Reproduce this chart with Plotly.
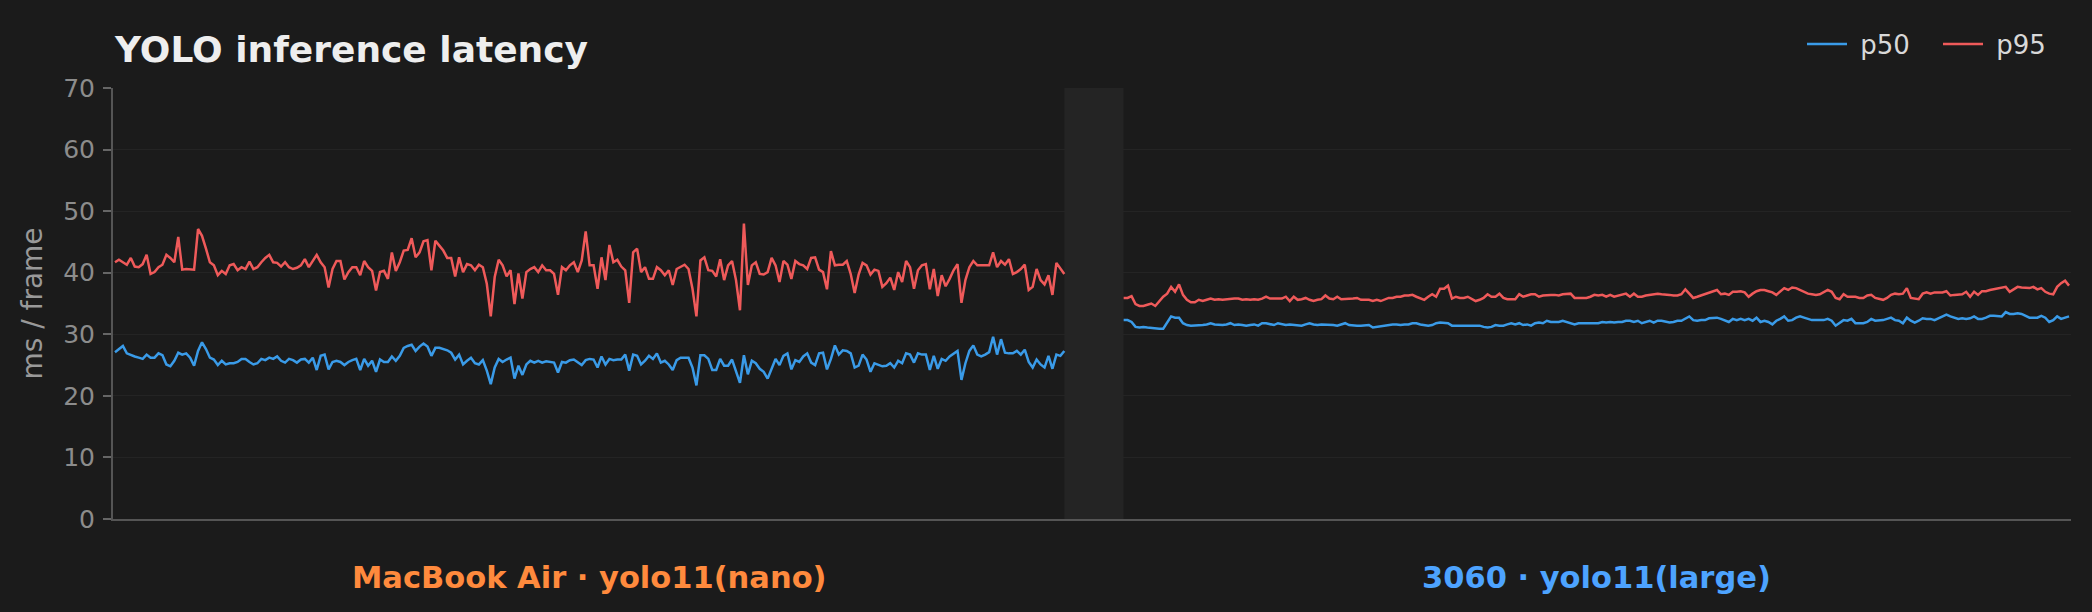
import numpy as np
import plotly.graph_objects as go

# ---------------- data ----------------
segments = ["MacBook Air · yolo11(nano)", "3060 · yolo11(large)"]
segment_colors = ["#ff8a3d", "#4da3ff"]

p95_mac = [
    41.7, 42.1, 41.7, 41.3, 42.4, 41.0, 40.9, 41.4, 42.9, 39.8,
    40.1, 40.9, 41.3, 42.9, 42.4, 41.7, 45.8, 40.5, 40.6, 40.5,
    40.5, 47.1, 46.0, 43.9, 41.7, 41.2, 39.6, 40.3, 39.8, 41.2,
    41.4, 40.4, 40.9, 40.6, 41.8, 40.6, 40.9, 41.7, 42.4, 42.9,
    41.7, 41.6, 41.0, 41.7, 40.9, 40.6, 40.8, 41.2, 42.2, 40.9,
    41.9, 42.9, 41.7, 40.9, 37.6, 40.6, 41.9, 41.9, 38.9, 40.1,
    40.9, 40.9, 39.6, 41.9, 40.9, 40.3, 37.1, 40.1, 40.3, 39.0,
    43.3, 40.3, 41.7, 43.6, 43.7, 45.6, 42.5, 43.3, 45.1, 45.3,
    40.4, 45.2,
    44.4, 43.6, 42.4, 42.4, 39.4, 42.5, 40.1, 41.4, 41.2, 40.4,
    41.3, 40.9, 38.2, 32.9, 39.3, 42.1, 41.2, 39.4, 40.4, 34.9,
    39.9, 35.8, 40.1, 40.6, 40.9, 40.1, 41.2, 40.4, 40.4, 39.8,
    36.4, 40.9, 40.4, 41.2, 41.7, 40.1, 42.0, 46.7, 41.2, 41.2,
    37.4, 42.5, 38.8, 44.5, 41.7, 42.1, 41.0, 40.4, 35.1, 43.3,
    43.9, 40.1, 40.9, 39.0, 39.0, 40.9, 40.4, 39.6, 40.4, 38.0,
    40.6, 40.9, 41.3, 40.6, 37.4, 32.9, 42.0, 42.5, 40.4, 40.3,
    39.4, 42.2, 38.8, 41.2, 41.9, 38.8, 33.9, 48.0, 38.0, 41.2,
    41.7, 39.8,
    39.7, 40.1, 42.4, 41.2, 38.5, 41.9, 41.3, 39.0, 41.9, 41.4,
    41.2, 40.6, 42.4, 42.5, 40.5, 40.1, 37.3, 43.5, 41.2, 41.3,
    41.3, 41.9, 39.8, 36.7, 39.7, 41.6, 41.2, 39.7, 40.5, 40.3,
    37.7, 38.3, 39.2, 37.2, 40.1, 38.5, 41.9, 40.9, 37.4, 40.4,
    41.2, 41.4, 37.3, 40.6, 36.2, 39.6, 37.8, 39.0, 40.4, 41.4,
    35.1, 38.8, 40.9, 41.9, 41.2, 41.2, 41.2, 41.2, 43.3, 40.9,
    41.9, 41.3, 42.2, 39.8, 40.1, 40.6, 41.3, 37.2, 37.7, 40.6,
    38.8, 38.1, 39.6, 36.4, 41.6, 40.6, 39.8,
]

p50_mac = [
    27.1, 27.6, 28.1, 26.9, 26.6, 26.4, 26.2, 26.0, 26.7, 26.2,
    26.2, 26.9, 26.6, 25.1, 24.8, 25.7, 27.0, 26.7, 26.9, 26.2,
    24.9, 27.3, 28.7, 27.6, 26.2, 25.9, 25.0, 25.7, 25.1, 25.3,
    25.3, 25.5, 26.0, 26.0, 25.5, 25.1, 25.3, 26.0, 25.8, 26.2,
    26.0, 26.4, 25.7, 25.4, 26.0, 25.8, 25.4, 25.9, 26.0, 25.4,
    26.2, 24.2, 26.5, 26.7, 24.3, 25.5, 25.7, 25.5, 25.0, 25.5,
    25.8, 26.0, 24.2, 26.0, 24.9, 25.7, 23.9, 25.9, 25.5, 25.5,
    26.4, 25.7, 26.5, 27.8, 28.1, 28.3, 27.3, 28.0, 28.5, 28.0,
    26.5, 27.8,
    27.8, 27.6, 27.4, 27.0, 25.9, 26.7, 25.1, 25.7, 26.2, 25.3,
    25.1, 25.8, 24.1, 21.9, 24.6, 26.0, 25.5, 25.9, 26.2, 22.8,
    24.9, 23.4, 25.1, 25.7, 25.4, 25.7, 25.4, 25.6, 25.5, 25.4,
    23.8, 25.5, 25.4, 25.8, 25.9, 25.5, 25.0, 25.8, 26.0, 25.9,
    24.6, 26.4, 25.1, 26.0, 25.8, 25.9, 25.9, 26.7, 24.1, 26.7,
    26.5, 25.1, 25.7, 26.5, 26.0, 26.9, 25.4, 25.7, 25.1, 24.2,
    25.8, 26.2, 26.2, 26.2, 24.6, 21.7, 26.6, 26.6, 26.0, 24.2,
    24.2, 26.0, 24.9, 24.9, 25.9, 24.1, 22.1, 26.6, 23.5, 25.7,
    25.3, 24.4,
    23.9, 22.8, 24.4, 26.0, 25.0, 26.5, 26.9, 24.3, 25.8, 25.5,
    26.4, 26.9, 25.4, 25.0, 26.9, 27.0, 24.3, 26.0, 28.2, 26.7,
    27.4, 27.3, 26.9, 24.6, 24.9, 26.7, 25.9, 23.9, 25.3, 25.1,
    24.8, 24.9, 25.3, 24.6, 25.7, 25.3, 26.9, 26.7, 25.4, 26.9,
    26.7, 26.7, 24.2, 26.5, 24.4, 26.0, 25.7, 26.4, 26.9, 27.3,
    22.6, 25.3, 27.3, 28.2, 26.7, 26.4, 26.7, 27.1, 29.6, 26.7,
    29.2, 27.0, 26.9, 26.9, 27.3, 26.7, 27.5, 25.5, 24.6, 25.9,
    25.1, 24.6, 26.5, 24.4, 26.7, 26.5, 27.3,
]

p95_3060 = [
    35.9, 35.9, 36.2, 34.9, 34.6, 34.6, 34.8, 35.0, 34.6, 35.3,
    36.1, 36.6, 37.7, 36.9, 38.1, 36.4, 35.6, 35.2, 35.2, 35.6,
    35.4, 35.6, 35.8, 35.6, 35.7, 35.6, 35.7, 35.7, 35.8, 35.8,
    35.6, 35.7, 35.6, 35.7, 35.6, 35.8, 36.1, 35.8, 35.8, 35.8,
    35.8, 36.1, 35.4, 36.1, 35.6, 35.7, 35.9, 35.6, 35.4, 35.6,
    35.7, 36.3, 35.8, 35.7, 36.1, 35.7, 35.7, 35.7, 35.8, 35.9,
    35.6, 35.6, 35.6, 35.4, 35.6, 35.4, 35.7, 35.9, 35.9, 36.1,
    36.1, 36.3, 36.3, 36.4, 36.1, 35.8, 35.6, 36.1,
    36.5, 36.1, 37.4, 37.4, 37.9, 35.8, 36.1, 35.9, 35.9, 36.1,
    35.7, 35.4, 35.6, 35.9, 36.5, 36.1, 36.1, 36.6, 35.9, 35.7,
    35.7, 35.7, 36.5, 36.1, 36.3, 36.5, 36.5, 36.1, 36.3, 36.4,
    36.4, 36.4, 36.3, 36.5, 36.6, 36.6, 35.9, 35.9, 35.9, 35.9,
    36.1, 36.4, 36.3, 36.4, 36.1, 36.4, 36.1, 36.3, 36.4, 36.6,
    36.1, 36.6, 36.1, 36.1, 36.3, 36.4, 36.5, 36.6, 36.5, 36.5,
    36.4, 36.3, 36.3, 36.5, 37.3, 36.6, 35.9, 36.1, 36.3, 36.5,
    36.8, 37.0, 37.2, 36.5, 36.6, 36.4, 36.9, 36.9, 37.0, 36.8,
    36.1,
    36.6, 37.0, 37.2, 37.2, 37.0, 36.8, 36.4, 36.9, 37.5, 37.2,
    37.6, 37.5, 37.2, 36.8, 36.6, 36.5, 36.4, 36.5, 36.8, 37.2,
    36.9, 35.9, 35.7, 36.5, 36.1, 36.1, 36.1, 35.9, 35.9, 36.3,
    36.4, 35.9, 35.8, 35.6, 35.9, 36.4, 36.6, 36.5, 36.6, 37.5,
    35.9, 35.8, 35.7, 36.6, 36.8, 36.6, 36.8, 36.8, 36.8, 37.0,
    36.3, 36.4, 36.5, 36.5, 36.9, 36.1, 36.9, 36.4, 37.0, 37.0,
    37.2, 37.3, 37.5, 37.5, 37.7, 36.9, 37.3, 37.7, 37.6, 37.6,
    37.5, 37.7, 37.3, 37.5, 36.9, 36.6, 36.5, 37.7, 38.3, 38.7,
    37.9,
]

p50_3060 = [
    32.3, 32.3, 32.0, 31.2, 31.1, 31.2, 31.1, 31.0, 31.0, 30.9,
    30.9, 32.0, 32.9, 32.7, 32.7, 31.8, 31.5, 31.4, 31.4, 31.5,
    31.5, 31.6, 31.8, 31.6, 31.5, 31.5, 31.6, 31.8, 31.5, 31.6,
    31.5, 31.4, 31.5, 31.6, 31.4, 31.8, 31.8, 31.6, 31.5, 31.8,
    31.6, 31.5, 31.6, 31.5, 31.5, 31.4, 31.6, 31.8, 31.6, 31.5,
    31.6, 31.6, 31.5, 31.5, 31.4, 31.6, 31.8, 31.5, 31.4, 31.4,
    31.4, 31.4, 31.5, 31.1, 31.2, 31.4, 31.5, 31.5, 31.6, 31.6,
    31.5, 31.6, 31.6, 31.8, 31.8, 31.6, 31.5, 31.4,
    31.5, 31.8, 31.9, 31.8, 31.8, 31.4, 31.4, 31.5, 31.5, 31.5,
    31.5, 31.5, 31.4, 31.2, 31.1, 31.2, 31.5, 31.4, 31.4, 31.6,
    31.8, 31.6, 31.8, 31.5, 31.6, 31.4, 31.8, 31.9, 31.8, 32.2,
    32.0, 32.0, 32.0, 32.2, 32.0, 31.8, 31.6, 31.8, 31.8, 31.8,
    31.9, 31.9, 31.8, 32.0, 31.9, 32.0, 31.9, 32.0, 32.0, 32.2,
    32.2, 32.0, 32.2, 31.8, 32.0, 32.2, 31.9, 32.2, 32.2, 32.0,
    31.9, 32.0, 32.2, 32.2, 32.5, 32.9, 32.3, 32.2, 32.3, 32.3,
    32.6, 32.6, 32.7, 32.5, 32.3, 32.0, 32.5, 32.3, 32.5, 32.3,
    32.5,
    32.2, 32.7, 32.0, 32.2, 32.0, 31.6, 32.2, 32.5, 32.9, 32.2,
    32.3, 32.7, 32.9, 32.7, 32.5, 32.3, 32.3, 32.3, 32.3, 32.5,
    32.2, 31.4, 31.8, 32.3, 32.2, 32.5, 31.8, 31.8, 31.8, 32.0,
    32.5, 32.2, 32.2, 32.3, 32.5, 32.7, 32.3, 32.2, 31.8, 32.7,
    32.2, 31.9, 32.2, 32.6, 32.5, 32.5, 32.3, 32.6, 32.9, 33.2,
    32.9, 32.7, 32.5, 32.6, 32.5, 32.6, 32.9, 32.5, 32.5, 32.7,
    33.0, 33.0, 33.0, 32.9, 33.6, 33.3, 33.3, 33.4, 33.3, 33.0,
    32.7, 32.7, 32.7, 33.0, 32.7, 32.0, 32.3, 32.9, 32.5, 32.7,
    32.9,
]

y_ticks = [0, 10, 20, 30, 40, 50, 60, 70]
GAP = 15  # frames of empty space between the two runs

# ---------------- x positions ----------------
x_mac = list(range(len(p95_mac)))
start_3060 = x_mac[-1] + GAP
x_3060 = [start_3060 + i for i in range(len(p95_3060))]
x_end = x_3060[-1]

def joined(a, b):
    return list(a) + [None] + list(b)

BG = "#1b1b1b"
BLUE = "#3a9be8"
RED = "#ef5a5a"
FONT = "DejaVu Sans"

fig = go.Figure()
fig.add_trace(go.Scatter(
    x=joined(x_mac, x_3060), y=joined(p50_mac, p50_3060),
    mode="lines", name="\u00a0p50", line=dict(color=BLUE, width=2.5),
    connectgaps=False,
))
fig.add_trace(go.Scatter(
    x=joined(x_mac, x_3060), y=joined(p95_mac, p95_3060),
    mode="lines", name="\u00a0p95", line=dict(color=RED, width=2.5),
    connectgaps=False,
))

# shaded separator band between the runs
fig.add_shape(type="rect", xref="x", yref="paper",
              x0=x_mac[-1], x1=start_3060, y0=0, y1=1,
              fillcolor="#242424", line=dict(width=0), layer="below")

# segment labels under the axis
centers = [(x_mac[0] + x_mac[-1]) / 2, (x_3060[0] + x_3060[-1]) / 2]
for label, col, cx in zip(segments, segment_colors, centers):
    fig.add_annotation(x=cx, xref="x", y=-0.135, yref="paper",
                       text=f"<b>{label}</b>", showarrow=False,
                       font=dict(family=FONT, size=30.5, color=col),
                       xanchor="center", yanchor="middle")

fig.update_layout(
    width=2092, height=612,
    paper_bgcolor=BG, plot_bgcolor=BG,
    margin=dict(l=113, r=21, t=88, b=93, autoexpand=False),
    font=dict(family=FONT, color="#8c8c8c"),
    title=dict(text="<b>YOLO inference latency</b>",
               font=dict(family=FONT, size=36, color="#eeeeee"),
               x=115 / 2092, xref="container", xanchor="left",
               y=1 - 49 / 612, yref="container", yanchor="middle"),
    legend=dict(orientation="h", xref="container", yref="container",
                x=1802 / 2092, xanchor="left", y=1 - 44 / 612, yanchor="middle",
                font=dict(family=FONT, size=26, color="#d8d8d8"),
                bgcolor="rgba(0,0,0,0)", itemwidth=40, entrywidth=81),
    showlegend=True,
)
fig.update_xaxes(range=[-0.5, x_end + 0.5], showticklabels=False, showgrid=False,
                 zeroline=False, showline=True, linecolor="#555555", linewidth=2,
                 ticks="")
fig.update_yaxes(range=[0, 70], tickvals=y_ticks, showgrid=True,
                 gridcolor="#242424", gridwidth=1, zeroline=False,
                 showline=True, linecolor="#555555", linewidth=2,
                 ticks="outside", ticklen=8, tickcolor="#666666", tickwidth=2,
                 ticklabelstandoff=3,
                 tickfont=dict(family=FONT, size=25, color="#8c8c8c"),
                 title=dict(text="ms / frame", standoff=12,
                            font=dict(family=FONT, size=28, color="#999999")))

fig.write_html("out.html")
